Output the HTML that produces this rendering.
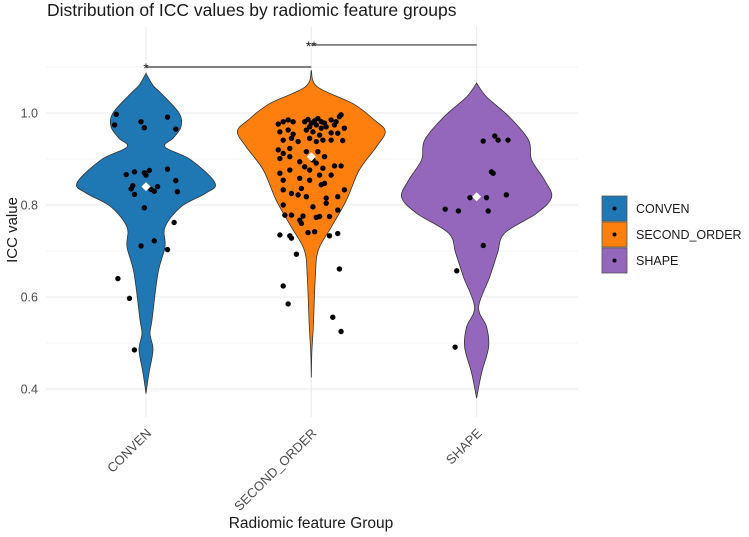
<!DOCTYPE html>
<html><head><meta charset="utf-8">
<style>
html,body{margin:0;padding:0;background:#fff;}
svg{display:block;font-family:"Liberation Sans",Arial,sans-serif;}
</style></head>
<body>
<svg id="chart" width="749" height="537" viewBox="0 0 749 537" xmlns="http://www.w3.org/2000/svg">
<text x="47" y="16" font-size="17.5" fill="#1a1a1a">Distribution of ICC values by radiomic feature groups</text>
<g id="grid"></g>
<g id="violins"></g>
<g id="points"></g>
<g id="axes"></g>
<text transform="translate(17,230) rotate(-90)" text-anchor="middle" font-size="15" fill="#1a1a1a">ICC value</text>
<text x="311" y="528" text-anchor="middle" font-size="15.5" fill="#1a1a1a">Radiomic feature Group</text>
<g id="legend"></g>
</svg>
<script>
const categories = ["CONVEN","SECOND_ORDER","SHAPE"];
const colors = ["#1f77b4","#ff7f0e","#9467bd"];
const yTicks = [0.4,0.6,0.8,1.0];
const yTickLabels = ["0.4","0.6","0.8","1.0"];
const yMinor = [0.5,0.7,0.9,1.1];
const means = [0.84,0.905,0.818];
// violin density profiles: value levels and relative half-widths
const convenLevels = [1.086,1.06,1.043,1.0,0.97,0.945,0.926,0.898,0.848,0.826,0.796,0.752,0.709,0.652,0.55,0.52,0.485,0.435,0.39];
const convenDensity = [0,7,15,33,35,27,19,45,69,60,35,19,19,12,6,4,7,3,0];
const soLevels = [1.093,1.057,1.02,0.985,0.96,0.926,0.876,0.81,0.752,0.702,0.643,0.535,0.478,0.425];
const soDensity = [0,6,42,63,74,65,48,35,20,7,4,2,0.5,0];
const shapeLevels = [1.065,1.035,0.991,0.941,0.898,0.854,0.817,0.782,0.739,0.696,0.643,0.578,0.535,0.491,0.435,0.38];
const shapeDensity = [0,10,33,52,55,68,75,60,28,21,13,2,10,12,5,0];
// jittered points: values and jitter (category units)
const convenValues = [.997,.974,.981,.968,.991,.965,.866,.872,.870,.875,.865,.878,.853,.842,.835,.823,.840,.834,.830,.829,.794,.762,.711,.722,.703,.640,.597,.485];
const convenJitter = [-.18,-.19,-.03,-.01,.13,.18,-.12,-.07,-.01,.02,0,.13,.18,-.08,-.09,-.07,.07,.03,.05,.19,-.01,.17,-.03,.05,.13,-.17,-.10,-.07];
const soValues = [.976,.981,.985,.981,.981,.986,.978,.983,.988,.981,.978,.985,.981,.992,.996,.970,.974,.970,.974,.967,.959,.963,.954,.963,.959,.967,.957,.956,.941,.945,.938,.945,.938,.941,.941,.940,.952,.920,.912,.923,.901,.905,.916,.916,.905,.898,.894,.883,.876,.891,.880,.885,.885,.876,.869,.854,.858,.854,.865,.865,.847,.844,.833,.825,.822,.836,.818,.815,.818,.833,.800,.796,.804,.789,.778,.778,.776,.773,.775,.775,.760,.767,.735,.733,.728,.740,.742,.733,.738,.693,.661,.624,.585,.556,.525];
const soJitter = [-.20,-.17,-.14,-.11,-.04,-.02,0,.02,.04,.06,.08,.12,.15,.17,.18,-.01,.03,.09,.14,.20,-.19,-.14,-.11,-.03,.01,.06,.12,.16,-.17,-.12,-.08,-.01,.03,.07,.12,.19,.05,-.20,-.17,-.13,-.19,-.13,-.03,.04,.08,.01,-.07,-.04,-.01,.03,.07,.14,.18,-.13,-.19,-.17,-.07,-.01,.05,.12,.08,.06,-.17,-.12,-.08,-.06,-.03,.09,.16,.20,-.17,.01,.09,.16,-.16,-.12,-.05,.03,.05,.11,-.06,-.07,-.19,-.13,-.12,-.02,.02,.11,.16,-.09,.17,-.17,-.14,.13,.18];
const shapeValues = [.950,.941,.941,.939,.872,.869,.816,.816,.822,.791,.787,.787,.712,.657,.491];
const shapeJitter = [.11,.13,.19,.04,.09,.10,-.04,.06,.18,-.19,-.11,.07,.04,-.12,-.13];
const sigLabels = ["*","**"];
const sigPairs = [[0,1],[1,2]];
const sigLevels = [1.1,1.148];

const NS="http://www.w3.org/2000/svg";
const pL=46,pR=578,pT=27,pB=417;
const catX = i => 146 + i*165.3;
const yS = v => 113 + (1-v)*460;
function mk(tag,attrs,parent){const e=document.createElementNS(NS,tag);for(const k in attrs)e.setAttribute(k,attrs[k]);parent.appendChild(e);return e;}

const grid=document.getElementById('grid');
yMinor.forEach(v=>{const l=mk('line',{x1:pL,x2:pR,y1:yS(v),y2:yS(v),stroke:'#f2f2f2','stroke-width':0.8},grid);

});
yTicks.forEach(v=>{const l=mk('line',{x1:pL,x2:pR,y1:yS(v),y2:yS(v),stroke:'#ebebeb','stroke-width':1.1},grid);

});
categories.forEach((c,i)=>{const l=mk('line',{x1:catX(i),x2:catX(i),y1:pT,y2:pB,stroke:'#ebebeb','stroke-width':1.1},grid);

});

function smoothPath(pts){
  let d='M'+pts[0][0]+','+pts[0][1];
  for(let i=0;i<pts.length-1;i++){
    const p0=pts[i-1]||pts[i],p1=pts[i],p2=pts[i+1],p3=pts[i+2]||p2;
    const c1=[p1[0]+(p2[0]-p0[0])/6,p1[1]+(p2[1]-p0[1])/6];
    const c2=[p2[0]-(p3[0]-p1[0])/6,p2[1]-(p3[1]-p1[1])/6];
    d+=' C'+c1[0].toFixed(1)+','+c1[1].toFixed(1)+' '+c2[0].toFixed(1)+','+c2[1].toFixed(1)+' '+p2[0].toFixed(1)+','+p2[1].toFixed(1);
  }
  return d;
}
const vg=document.getElementById('violins');
const levelsAll=[convenLevels,soLevels,shapeLevels];
const densAll=[convenDensity,soDensity,shapeDensity];
categories.forEach((c,i)=>{
  const cx=catX(i);
  const right=levelsAll[i].map((v,k)=>[cx+densAll[i][k],yS(v)]);
  const left=levelsAll[i].map((v,k)=>[cx-densAll[i][k],yS(v)]).reverse();
  const d=smoothPath(right)+' '+smoothPath(left).replace(/^M/,'L')+' Z';
  const p=mk('path',{d:d,fill:colors[i],stroke:'#333','stroke-width':0.8},vg);
  
  
});

const pg=document.getElementById('points');
const valsAll=[convenValues,soValues,shapeValues];
const jitAll=[convenJitter,soJitter,shapeJitter];
categories.forEach((c,i)=>{
  valsAll[i].forEach((v,k)=>{
    const pt=mk('circle',{cx:catX(i)+jitAll[i][k]*165.3,cy:yS(v),r:2.7,fill:'#000'},pg);
    
    
  });
  const mx=catX(i),my=yS(means[i]);
  const dm=mk('polygon',{points:`${mx},${my-4.5} ${mx+4.5},${my} ${mx},${my+4.5} ${mx-4.5},${my}`,fill:'#fff'},pg);
  
  
});

const ax=document.getElementById('axes');
yTicks.forEach((v,k)=>{const t=mk('text',{x:38,y:yS(v)+4.5,'text-anchor':'end','font-size':12.5,fill:'#4d4d4d'},ax);t.textContent=yTickLabels[k];

});
categories.forEach((c,i)=>{const t=mk('text',{transform:`translate(${catX(i)+6},${434}) rotate(-45)`,'text-anchor':'end','font-size':13,fill:'#4d4d4d'},ax);t.textContent=c;

});
sigPairs.forEach((pr,k)=>{
  const y=yS(sigLevels[k]);
  const l=mk('line',{x1:catX(pr[0]),x2:catX(pr[1]),y1:y,y2:y,stroke:'#333','stroke-width':1.2},ax);
  
  
  const t=mk('text',{x:catX(pr[0]),y:y+6,'text-anchor':'middle','font-size':14,fill:'#1a1a1a'},ax);t.textContent=sigLabels[k];
  
  
});

const lg=document.getElementById('legend');
categories.forEach((c,i)=>{
  const y=196+i*26;
  const r=mk('rect',{x:602,y:y,width:25,height:25,fill:colors[i],stroke:'#555','stroke-width':0.8},lg);
  
  
  mk('circle',{cx:614.5,cy:y+12.5,r:2,fill:'#000'},lg);
  const t=mk('text',{x:636,y:y+17,'font-size':12.5,fill:'#1a1a1a'},lg);t.textContent=c;
  
  
});
</script>
</body></html>
